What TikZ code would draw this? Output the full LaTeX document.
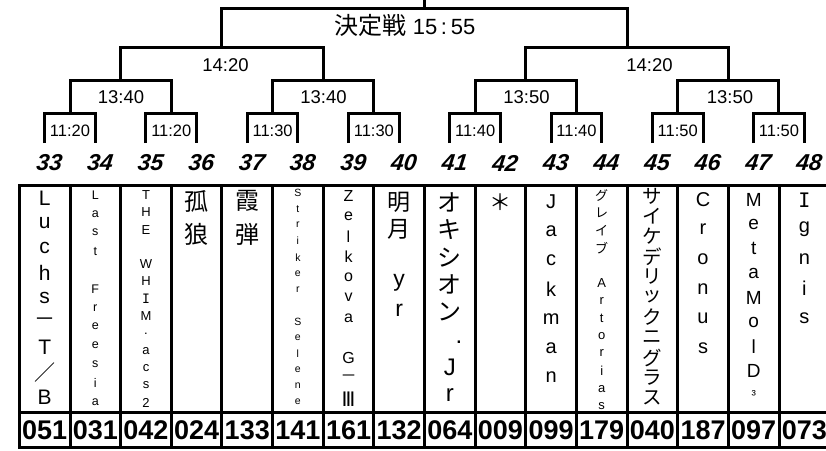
\documentclass[tikz,border=0pt]{standalone}
\usepackage{fontspec}
\usetikzlibrary{calc}
\setmainfont{Liberation Sans}
\newfontfamily\jp{Noto Sans CJK JP}
\newfontfamily\monoI{DejaVu Sans Mono}
\newfontfamily\dvs{DejaVu Sans}
\newfontfamily\seedfont[FakeSlant=0.12]{Liberation Sans Bold Italic}
\tikzset{
  bline/.style={line width=3pt},
  finaltime/.style={inner sep=0pt, font=\fontsize{22}{24}\selectfont},
  midtime/.style={inner sep=0pt, font=\fontsize{18.5}{20}\selectfont},
  smalltime/.style={inner sep=0pt, font=\fontsize{16.5}{18}\selectfont},
  seedno/.style={inner sep=0pt, font=\fontsize{23}{25}\selectfont\seedfont},
  entryno/.style={inner sep=0pt, font=\fontsize{27}{29}\selectfont\bfseries},
  namechar/.style={inner sep=0pt, anchor=center},
}
\newcommand\vname[6]{%
  \foreach \ch [count=\idx from 0] in {#6} {%
    \node[namechar, font={#5}] (#1-\idx) at (#2, {#3+\idx*#4}) {\ch};
  }%
}
\begin{document}
\begin{tikzpicture}[x=1pt,y=-1pt]
\useasboundingbox (0,0) rectangle (826,450);
% ---- bracket coordinates
\foreach \i in {1,...,16} \coordinate (L\i) at ({44.7+50.64*(\i-1)},143);
\foreach \j in {1,...,8} \coordinate (D\j) at ({44.7+50.64*(2*\j-1.5)},113);
\foreach \j in {1,...,4} \coordinate (C\j) at ({44.7+50.64*(4*\j-2.5)},80);
\foreach \j in {1,2} \coordinate (B\j) at ({44.7+50.64*(8*\j-4.5)},47);
\coordinate (A) at ({44.7+50.64*7.5},8);
\coordinate (Top) at ({44.7+50.64*7.5},-5);
% ---- bracket lines
\foreach \j [evaluate=\j as \a using int(2*\j-1), evaluate=\j as \b using int(2*\j)] in {1,...,8}
  \draw[bline] (L\a) |- (D\j) -| (L\b);
\foreach \j [evaluate=\j as \a using int(2*\j-1), evaluate=\j as \b using int(2*\j)] in {1,...,4}
  \draw[bline] (D\a) |- (C\j) -| (D\b);
\draw[bline] (C1) |- (B1) -| (C2);
\draw[bline] (C3) |- (B2) -| (C4);
\draw[bline] (B1) |- (A) -| (B2);
\draw[bline] (A) -- (Top);
% ---- time labels
\node[finaltime] (tF) at (405,25) {{\jp\fontsize{24}{26}\selectfont 決定戦} 15\,:\,55};
\node[midtime] (tB1) at (225.5,65) {14:20};
\node[midtime] (tB2) at (649.5,65) {14:20};
\node[midtime] (tC1) at (121,97) {13:40};
\node[midtime] (tC2) at (323.5,97) {13:40};
\node[midtime] (tC3) at (526.5,97) {13:50};
\node[midtime] (tC4) at (730,97) {13:50};
\foreach \t [count=\j from 1] in {11:20,11:20,11:30,11:30,11:40,11:40,11:50,11:50}
  \node[smalltime] (tD\j) at ($(D\j)+(0,18)$) {\t};
% ---- seed numbers
\foreach \n [count=\i from 0] in {33,34,35,36,37,38,39,40,41,42,43,44,45,46,47,48}
  \node[seedno] (s\n) at ({48.7+50.64*\i},163) {\n};
% ---- table
\draw[bline] (19.4,185) rectangle (829.6,447);
\draw[bline] (19.4,412) -- (829.6,412);
\foreach \i in {1,...,15} \draw[bline] ({19.4+50.64*\i},185) -- ({19.4+50.64*\i},447);
% ---- entry numbers
\foreach \n [count=\i from 0] in {051,031,042,024,133,141,161,132,064,009,099,179,040,187,097,073}
  \node[entryno] (e\i) at ({44.7+50.64*\i},430) {\n};
% ---- names (vertical)
\vname{n1}{44.7}{198}{24.9}{\fontsize{21}{22}\selectfont}{L,u,c,h,s,{\jp －},T,{\jp ／},B}
\vname{n2}{95.3}{195}{18.8}{\fontsize{12.5}{13}\selectfont}{L,a,s,t,{},F,r,e,e,s,i,a}
\vname{n3}{146.0}{195}{17.3}{\fontsize{13}{14}\selectfont}{T,H,E,{},W,H,{\monoI I},M,.,a,c,s,2}
\vname{n4}{196.6}{201}{33}{\fontsize{24}{26}\selectfont\jp}{孤,狼}
\vname{n5}{247.3}{201}{33}{\fontsize{24}{26}\selectfont\jp}{霞,弾}
\vname{n6}{297.9}{193}{16.05}{\fontsize{10.5}{11}\selectfont}{S,t,r,i,k,e,r,{},S,e,l,e,n,e}
\vname{n7}{348.5}{196}{20.3}{\fontsize{16}{17}\selectfont}{Z,e,l,k,o,v,a,{},G,{\jp －},{\dvs\fontsize{20}{20}\selectfont Ⅲ}}
\vname{n8}{399.2}{202}{27}{\fontsize{23}{24}\selectfont}{{\jp 明},{\jp 月},{},y,r}
\vname{n9}{449.8}{202}{27.6}{\fontsize{24}{25}\selectfont}{{\jp オ},{\jp キ},{\jp シ},{\jp オ},{\jp ン},{},J,r}
\node[namechar, font=\fontsize{24}{25}\selectfont] (n9dot) at (459,342) {.};
\vname{n10}{500.5}{202}{27}{\fontsize{22}{24}\selectfont\jp}{＊}
\vname{n11}{551.1}{202}{29.2}{\fontsize{20}{22}\selectfont}{J,a,c,k,m,a,n}
\vname{n12}{601.7}{195}{17.6}{\fontsize{13}{14}\selectfont}{{\jp グ},{\jp レ},{\jp イ},{\jp ブ},{},A,r,t,o,r,i,a,s}
\vname{n13}{652.4}{196}{20.2}{\fontsize{19.5}{20}\selectfont\jp}{サ,イ,ケ,デ,リ,ッ,ク,ニ,グ,ラ,ス}
\vname{n14}{703.0}{200}{29.6}{\fontsize{20}{22}\selectfont}{C,r,o,n,u,s}
\vname{n15}{753.7}{200}{24.4}{\fontsize{19}{20}\selectfont}{M,e,t,a,M,o,l,D,{\fontsize{13}{13}\selectfont ³}}
\vname{n16}{804.3}{200}{29.5}{\fontsize{20}{22}\selectfont}{{\monoI I},g,n,i,s}
\end{tikzpicture}
\end{document}
